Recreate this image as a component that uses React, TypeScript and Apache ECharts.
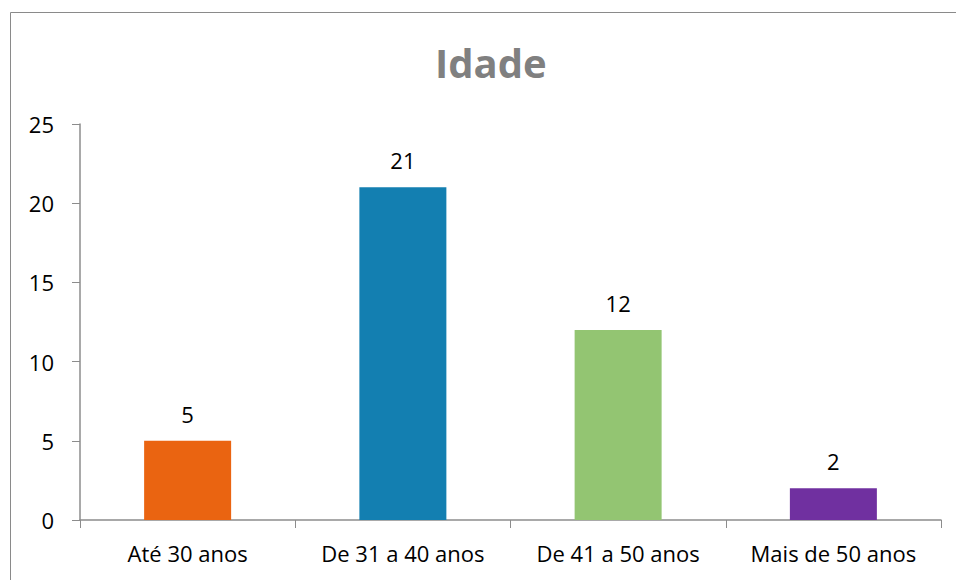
import React, { useEffect, useRef } from "react";
import * as echarts from "echarts";

const categories = ["Até 30 anos", "De 31 a 40 anos", "De 41 a 50 anos", "Mais de 50 anos"];
const values = [5, 21, 12, 2];
const barColors = ["#EA6411", "#137FB1", "#93C572", "#7030A0"];
const titleText = "Idade";

export default function App() {
  const ref = useRef<HTMLDivElement>(null);
  useEffect(() => {
    const chart = echarts.init(ref.current!, null, { renderer: "svg" });
    const font = "'Open Sans', 'Noto Sans', sans-serif";
    chart.setOption({
      animation: false,
      backgroundColor: "#ffffff",
      title: {
        text: titleText,
        left: 430,
        top: 37,
        textStyle: { fontFamily: font, fontSize: 40, fontWeight: "bold", color: "#808080" },
      },
      graphic: [
        {
          type: "rect",
          shape: { x: 10.5, y: 12.5, width: 960, height: 600 },
          style: { fill: "none", stroke: "#8a8a8a", lineWidth: 1 },
          silent: true,
        },
      ],
      grid: { left: 80, right: 15, top: 124, bottom: 60 },
      xAxis: {
        type: "category",
        data: categories,
        axisLine: { lineStyle: { color: "#8c8c8c", width: 1.5 } },
        axisTick: { show: true, interval: 0, length: 8, lineStyle: { color: "#8c8c8c" } },
        axisLabel: { interval: 0, hideOverlap: false, fontFamily: font, fontSize: 22, color: "#000", margin: 22 },
      },
      yAxis: {
        type: "value",
        min: 0,
        max: 25,
        interval: 5,
        axisLine: { show: true, lineStyle: { color: "#8c8c8c", width: 1.5 } },
        axisTick: { show: true, length: 8, lineStyle: { color: "#8c8c8c" } },
        splitLine: { show: false },
        axisLabel: { fontFamily: font, fontSize: 22, color: "#000", margin: 26 },
      },
      series: [
        {
          type: "bar",
          barWidth: 87,
          data: values.map((v, i) => ({ value: v, itemStyle: { color: barColors[i] } })),
          label: {
            show: true,
            position: "top",
            distance: 16,
            fontFamily: font,
            fontSize: 22,
            color: "#000",
          },
        },
      ],
    });
    return () => chart.dispose();
  }, []);
  return <div ref={ref} style={{ width: 956, height: 580, position: "absolute", left: 0, top: 0 }} />;
}
